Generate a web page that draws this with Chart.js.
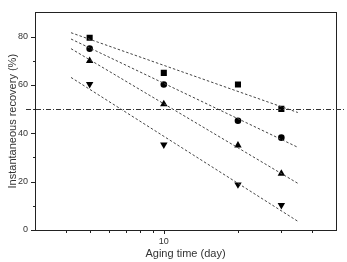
<!DOCTYPE html>
<html>
<head>
<meta charset="utf-8">
<script src="https://cdn.jsdelivr.net/npm/chart.js@4"></script>
<style>
  html, body { margin: 0; padding: 0; background: #fff; }
  #wrap { width: 347px; height: 262px; position: relative; }
</style>
</head>
<body>
<div id="wrap"><canvas id="recoveryChart"></canvas></div>
<script>
// Aging data (x in days, log axis)
const days = [5, 10, 20, 30];
const squareVals = [79.5, 65, 60.2, 50.1];
const circleVals = [75, 60.2, 45.2, 38.2];
const upVals = [70, 52.1, 35, 23.3];
const downVals = [60.3, 35.3, 18.8, 10.3];

// dashed fit lines
const fitDays = [4.2, 35];
const squareFit = [81.6, 48.6];
const circleFit = [79, 34.2];
const upFit = [75, 19.3];
const downFit = [63.1, 3.6];

const refLevel = 50;
const yMajor = [0, 20, 40, 60, 80];
const yMinor = [10, 30, 50, 70];
const xTicks = [4, 5, 6, 7, 8, 9, 10, 20, 30, 40];
const xLabels = [10];

const pts = (xs, ys) => xs.map((x, i) => ({ x: x, y: ys[i] }));

function markers(vals, style, r, rot) {
    return {
        data: pts(days, vals),
        pointStyle: style,
        pointRadius: r,
        rotation: rot || 0,
        backgroundColor: '#000',
        borderColor: '#000',
        borderWidth: 0,
        showLine: false
    };
}

function fitLine(vals) {
    return {
        data: pts(fitDays, vals),
        showLine: true,
        borderColor: '#444',
        borderWidth: 1,
        borderDash: [2.5, 2],
        pointRadius: 0
    };
}

// frame, ticks and the 50% reference line
const framePlugin = {
    id: 'frame',
    afterDraw(chart) {
        const { ctx, chartArea: a, scales } = chart;
        const x = scales.x, y = scales.y;
        ctx.save();
        ctx.strokeStyle = '#222';
        ctx.lineWidth = 1;
        ctx.strokeRect(Math.round(a.left) + 0.5, Math.round(a.top) + 0.5,
            Math.round(a.right - a.left), Math.round(a.bottom - a.top));

        ctx.beginPath();
        yMajor.forEach(v => {
            const py = Math.round(y.getPixelForValue(v)) + 0.5;
            ctx.moveTo(a.left, py); ctx.lineTo(a.left - 4, py);
        });
        yMinor.forEach(v => {
            const py = Math.round(y.getPixelForValue(v)) + 0.5;
            ctx.moveTo(a.left, py); ctx.lineTo(a.left - 2, py);
        });
        xTicks.forEach(v => {
            const px = Math.round(x.getPixelForValue(v)) + 0.5;
            const len = xLabels.includes(v) ? 4 : 3;
            ctx.moveTo(px, a.bottom); ctx.lineTo(px, a.bottom + len);
        });
        ctx.stroke();

        const ry = Math.round(y.getPixelForValue(refLevel)) + 0.5;
        ctx.strokeStyle = '#333';
        ctx.setLineDash([5, 2, 1, 2]);
        ctx.beginPath();
        ctx.moveTo(26, ry); ctx.lineTo(346, ry);
        ctx.stroke();
        ctx.restore();
    }
};

const ctx = document.getElementById('recoveryChart').getContext('2d');
new Chart(ctx, {
    type: 'scatter',
    data: {
        datasets: [
            fitLine(squareFit), fitLine(circleFit), fitLine(upFit), fitLine(downFit),
            markers(squareVals, 'rect', 4.3),
            markers(circleVals, 'circle', 3.3),
            markers(upVals, 'triangle', 4.3),
            markers(downVals, 'triangle', 4.3, 180)
        ]
    },
    options: {
        responsive: true,
        maintainAspectRatio: false,
        animation: false,
        layout: { padding: { top: 6, right: 11, left: 0, bottom: 0 } },
        plugins: {
            legend: { display: false },
            tooltip: { enabled: false }
        },
        scales: {
            x: {
                type: 'logarithmic',
                min: 3,
                max: 50,
                grid: { display: false, drawTicks: false },
                border: { display: false },
                afterFit: s => { s.height = 32; },
                ticks: {
                    autoSkip: false,
                    maxRotation: 0,
                    padding: 6,
                    color: '#333',
                    font: { family: 'Liberation Sans', size: 9 },
                    callback: v => xLabels.includes(v) ? String(v) : ''
                },
                title: {
                    display: true,
                    text: 'Aging time (day)',
                    color: '#333',
                    font: { family: 'Liberation Sans', size: 11 },
                    padding: { top: 0, bottom: 1 }
                }
            },
            y: {
                min: 0,
                max: 90,
                grid: { display: false, drawTicks: false },
                border: { display: false },
                afterFit: s => { s.width = 35; },
                afterBuildTicks: s => { s.ticks = yMajor.map(v => ({ value: v })); },
                ticks: {
                    padding: 7,
                    color: '#333',
                    font: { family: 'Liberation Sans', size: 9 }
                },
                title: {
                    display: true,
                    text: 'Instantaneous recovery (%)',
                    color: '#333',
                    font: { family: 'Liberation Sans', size: 11 },
                    padding: { top: 6, bottom: 0 }
                }
            }
        }
    },
    plugins: [framePlugin]
});
</script>
</body>
</html>
